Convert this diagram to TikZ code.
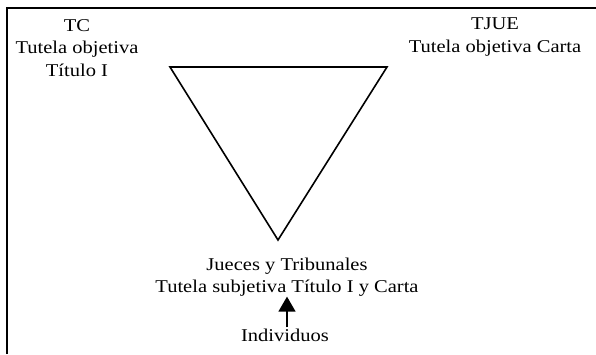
\documentclass[tikz,border=0pt]{standalone}
\usepackage{fontspec}
\setmainfont[FakeStretch=1.14]{Liberation Serif}
\usetikzlibrary{arrows.meta}
\begin{document}
\begin{tikzpicture}[x=1pt,y=1pt,
  lbl/.style={align=center,inner sep=0pt,font=\fontsize{18}{22.5}\selectfont},
  frame/.style={line width=1.3pt},
  tri/.style={line width=1.6pt,line join=miter},
  upar/.style={line width=1.5pt,-{Triangle[width=17pt,length=15pt]},shorten <=1pt,shorten >=0pt}]
\useasboundingbox (0,0) rectangle (596,354);
\draw[frame] (7,0) -- (7,346) -- (596,346);
\draw[tri] (170,287) -- (387,287) -- (278,114) -- cycle;
\node[lbl] (tc) at (77,306) {TC\\Tutela objetiva\\Título I};
\node[lbl] (tjue) at (495,317) {TJUE\\Tutela objetiva Carta};
\node[lbl] (jt) at (287,77) {Jueces y Tribunales\\Tutela subjetiva Título I y Carta};
\node[lbl] (ind) at (285,19) {Individuos};
\draw[upar] (ind.north -| jt.south) -- (jt.south);
\end{tikzpicture}
\end{document}
